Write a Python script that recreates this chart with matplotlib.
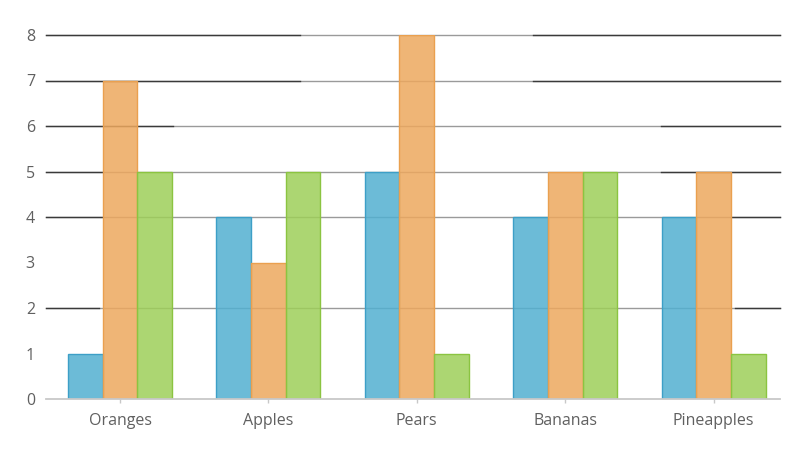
import numpy as np
import matplotlib
matplotlib.use("Agg")
import matplotlib.pyplot as plt

categories = ["Oranges", "Apples", "Pears", "Bananas", "Pineapples"]
series_a = [1, 4, 5, 4, 4]
series_b = [7, 3, 8, 5, 5]
series_c = [5, 5, 1, 5, 1]
y_ticks = [0, 1, 2, 3, 4, 5, 6, 7, 8]
grid_values = [2, 4, 5, 6, 7, 8]

# fills are slightly see-through, edges solid
fills = [(0.32, 0.69, 0.82, 0.85), (0.93, 0.66, 0.37, 0.85), (0.62, 0.81, 0.35, 0.85)]
edges = ["#3d9fc7", "#eaa04f", "#8bc441"]

# gridline look: dark pieces at the ends, lighter in the middle (pixel spans)
dark_spans = {
    8: [(46, 300), (533, 780)],
    7: [(46, 300), (533, 780)],
    6: [(46, 173), (661, 780)],
    5: [(46, 102), (661, 780)],
    4: [(46, 102), (731, 780)],
    2: [(46, 99), (735, 780)],
}

plt.rcParams['font.family'] = ['Open Sans', 'DejaVu Sans']

fig = plt.figure(figsize=(8, 4.5), dpi=100)
left, right = 46 / 800, 780 / 800
bottom, top = 1 - 399 / 450, 1 - 35 / 450
ax = fig.add_axes([left, bottom, right - left, top - bottom])

x = np.arange(len(categories))
band = 148.4  # pixels per category
w = 34.7 / band
for i, vals in enumerate([series_a, series_b, series_c]):
    ax.bar(x + (i - 1) * w, vals, width=w, color=fills[i], edgecolor=edges[i],
           linewidth=1.0, zorder=3)

x0 = -(120 - 46) / band
ax.set_xlim(x0, x0 + 734 / band)
ax.set_ylim(0, 8)

# gridlines
for v in grid_values:
    ax.axhline(v, color="#9a9a9a", linewidth=1.0, zorder=1, clip_on=False)
    for a, b in dark_spans[v]:
        ax.axhline(v, xmin=(a - 46) / 734, xmax=(b - 46) / 734,
                   color="#3a3a3a", linewidth=1.0, zorder=2, clip_on=False)

for s in ["left", "right", "top"]:
    ax.spines[s].set_visible(False)
ax.spines["bottom"].set_color("#c8c8c8")
ax.spines["bottom"].set_linewidth(1.3)
ax.spines["bottom"].set_zorder(4)

ax.set_xticks(x)
ax.set_xticklabels(categories)
ax.set_yticks(y_ticks)
ax.tick_params(axis="x", length=3, width=1, color="#c8c8c8", pad=7,
               labelsize=11.5, labelcolor="#606060")
ax.tick_params(axis="y", length=0, pad=8, labelsize=11.5, labelcolor="#606060")

fig.savefig("out.png", dpi=100)
